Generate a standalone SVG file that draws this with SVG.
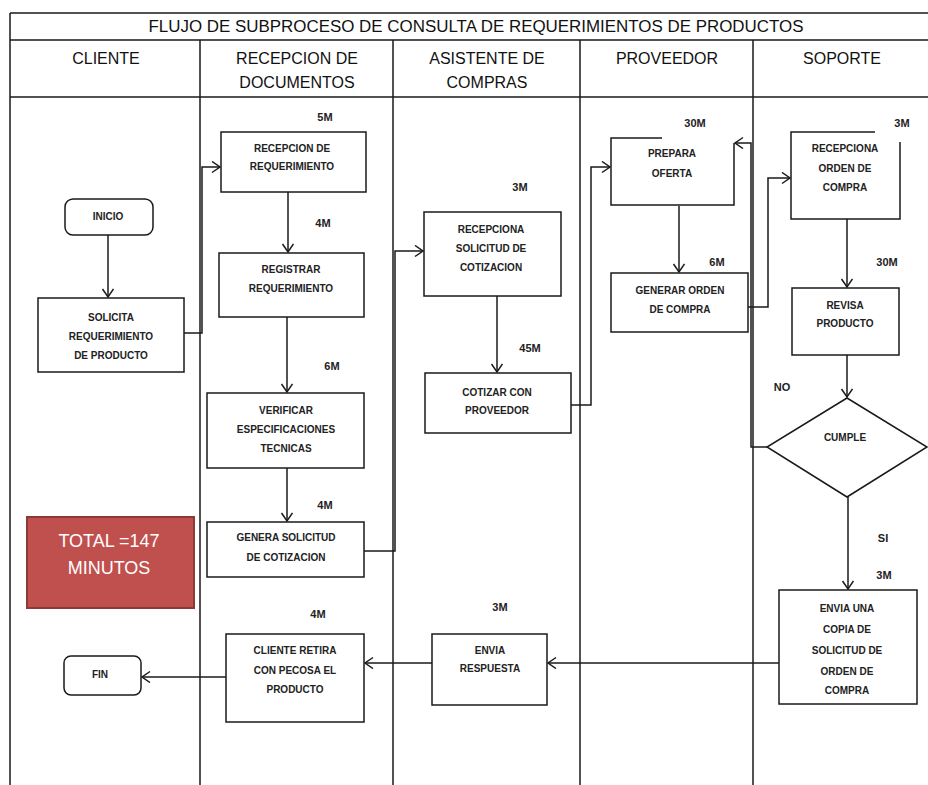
<svg xmlns="http://www.w3.org/2000/svg" width="928" height="785" viewBox="0 0 928 785">
<style>
.grid{stroke:#1a1a1a;stroke-width:1.5;fill:none}
.ln{stroke:#1a1a1a;stroke-width:1.5;fill:none}
.box{fill:#fff;stroke:#1a1a1a;stroke-width:1.5}
.t{font-family:"Liberation Sans",Arial,sans-serif;font-size:10px;font-weight:bold;fill:#222;text-anchor:middle}
.m{font-size:11px}
.h{font-family:"Liberation Sans",Arial,sans-serif;font-size:16px;fill:#111;text-anchor:middle}
.w{font-family:"Liberation Sans",Arial,sans-serif;font-size:18px;fill:#fff;text-anchor:middle}
</style>
<defs>
<marker id="ar" markerUnits="userSpaceOnUse" markerWidth="12" markerHeight="14" refX="9" refY="6" orient="auto">
<path d="M1,0.5 L9,6 L1,11.5" fill="none" stroke="#1a1a1a" stroke-width="1.5"/>
</marker>
</defs>
<rect width="928" height="785" fill="#fff"/>
<g id="table">
<path class="grid" d="M10,13 H928 M10,40 H928 M10,97 H928 M10,13 V785 M200,40 V785 M393,40 V785 M580,40 V785 M753,40 V785"/>
<text class="h" x="476" y="32" textLength="655" lengthAdjust="spacingAndGlyphs">FLUJO DE SUBPROCESO DE CONSULTA DE REQUERIMIENTOS DE PRODUCTOS</text>
<text class="h" x="106" y="64">CLIENTE</text>
<text class="h" x="297" y="64">RECEPCION DE</text>
<text class="h" x="297" y="88">DOCUMENTOS</text>
<text class="h" x="487" y="64">ASISTENTE DE</text>
<text class="h" x="487" y="88">COMPRAS</text>
<text class="h" x="667" y="64">PROVEEDOR</text>
<text class="h" x="842" y="64">SOPORTE</text>
</g>
<g id="connectors">
<path class="ln" d="M108,235 V297" marker-end="url(#ar)"/>
<path class="ln" d="M184,333 H202 V167 H220" marker-end="url(#ar)"/>
<path class="ln" d="M288,192 V252" marker-end="url(#ar)"/>
<path class="ln" d="M287,317 V392" marker-end="url(#ar)"/>
<path class="ln" d="M287,468 V521" marker-end="url(#ar)"/>
<path class="ln" d="M364,551 H395 V251 H423" marker-end="url(#ar)"/>
<path class="ln" d="M497,296 V372" marker-end="url(#ar)"/>
<path class="ln" d="M571,405 H591 V167 H610" marker-end="url(#ar)"/>
<path class="ln" d="M679,206 V272" marker-end="url(#ar)"/>
<path class="ln" d="M748,307 H768 V178 H790" marker-end="url(#ar)"/>
<path class="ln" d="M847,219 V287" marker-end="url(#ar)"/>
<path class="ln" d="M847,355 V397" marker-end="url(#ar)"/>
<path class="ln" d="M767,447 H751 V143 H735" marker-end="url(#ar)"/>
<path class="ln" d="M848,497 V589" marker-end="url(#ar)"/>
<path class="ln" d="M779,663 H548" marker-end="url(#ar)"/>
<path class="ln" d="M432,663 H365" marker-end="url(#ar)"/>
<path class="ln" d="M226,677 H142" marker-end="url(#ar)"/>
</g>
<g id="labels">
<text class="t m" x="325" y="121">5M</text>
<text class="t m" x="323" y="227">4M</text>
<text class="t m" x="332" y="370">6M</text>
<text class="t m" x="325" y="509">4M</text>
<text class="t m" x="318" y="618">4M</text>
<text class="t m" x="520" y="191">3M</text>
<text class="t m" x="530" y="352">45M</text>
<text class="t m" x="500" y="611">3M</text>
<text class="t m" x="695" y="127">30M</text>
<text class="t m" x="717" y="266">6M</text>
<text class="t m" x="902" y="127">3M</text>
<text class="t m" x="887" y="266">30M</text>
<text class="t m" x="782" y="391">NO</text>
<text class="t m" x="883" y="542">SI</text>
<text class="t m" x="884" y="579">3M</text>
</g>
<g id="total">
<rect x="27" y="517" width="167" height="91" fill="#c0504d" stroke="#8c3a38" stroke-width="2"/>
<text class="w" x="109" y="547">TOTAL =147</text>
<text class="w" x="109" y="574">MINUTOS</text>
</g>
<g id="inicio">
<rect class="box" x="65" y="199" width="88" height="36" rx="8"/>
<text class="t" x="108" y="220">INICIO</text>
</g>
<g id="solicita">
<rect class="box" x="38" y="298" width="146" height="74"/>
<text class="t" x="111" y="320.5">SOLICITA</text>
<text class="t" x="111" y="339.5">REQUERIMIENTO</text>
<text class="t" x="111" y="358.5">DE PRODUCTO</text>
</g>
<g id="recepcion">
<rect class="box" x="221" y="132" width="145" height="60"/>
<text class="t" x="292" y="151.5">RECEPCION  DE</text>
<text class="t" x="292" y="169.5">REQUERIMIENTO</text>
</g>
<g id="registrar">
<rect class="box" x="219" y="253" width="145" height="64"/>
<text class="t" x="291" y="272.5">REGISTRAR</text>
<text class="t" x="291" y="291.5">REQUERIMIENTO</text>
</g>
<g id="verificar">
<rect class="box" x="207" y="393" width="157" height="75"/>
<text class="t" x="286" y="413.5">VERIFICAR</text>
<text class="t" x="286" y="432.5">ESPECIFICACIONES</text>
<text class="t" x="286" y="451.5">TECNICAS</text>
</g>
<g id="genera">
<rect class="box" x="207" y="522" width="157" height="55"/>
<text class="t" x="286" y="540.5">GENERA SOLICITUD</text>
<text class="t" x="286" y="560.5">DE COTIZACION</text>
</g>
<g id="retira">
<rect class="box" x="226" y="634" width="138" height="88"/>
<text class="t" x="295" y="653.5">CLIENTE  RETIRA</text>
<text class="t" x="295" y="673.5">CON PECOSA EL</text>
<text class="t" x="295" y="692.5">PRODUCTO</text>
</g>
<g id="fin">
<rect class="box" x="64" y="656" width="77" height="39" rx="7"/>
<text class="t" x="100" y="677.5">FIN</text>
</g>
<g id="recepciona-solicitud">
<rect class="box" x="424" y="212" width="137" height="84"/>
<text class="t" x="491" y="232.5">RECEPCIONA</text>
<text class="t" x="491" y="251.5">SOLICITUD  DE</text>
<text class="t" x="491" y="270.5">COTIZACION</text>
</g>
<g id="cotizar">
<rect class="box" x="425" y="373" width="146" height="60"/>
<text class="t" x="497" y="395.5">COTIZAR  CON</text>
<text class="t" x="497" y="413.5">PROVEEDOR</text>
</g>
<g id="envia-respuesta">
<rect class="box" x="432" y="634" width="115" height="71"/>
<text class="t" x="490" y="653.5">ENVIA</text>
<text class="t" x="490" y="671.5">RESPUESTA</text>
</g>
<g id="prepara">
<rect x="611" y="138" width="123" height="67" fill="#fff"/>
<path class="ln" d="M662,138 H611 V205 H734 V143"/>
<text class="t" x="672" y="156.5">PREPARA</text>
<text class="t" x="672" y="176.5">OFERTA</text>
</g>
<g id="generar-orden">
<rect class="box" x="611" y="273" width="137" height="59"/>
<text class="t" x="680" y="293.5">GENERAR  ORDEN</text>
<text class="t" x="680" y="312.5">DE COMPRA</text>
</g>
<g id="recepciona-orden">
<rect x="791" y="132" width="109" height="87" fill="#fff"/>
<path class="ln" d="M875,132 H791 V219 H900 V142"/>
<text class="t" x="845" y="151.5">RECEPCIONA</text>
<text class="t" x="845" y="171.5">ORDEN DE</text>
<text class="t" x="845" y="190.5">COMPRA</text>
</g>
<g id="revisa">
<rect class="box" x="792" y="288" width="107" height="67"/>
<text class="t" x="845" y="308.5">REVISA</text>
<text class="t" x="845" y="326.5">PRODUCTO</text>
</g>
<g id="cumple">
<path class="box" d="M847,398 L927,447 L847,497 L767,447 Z"/>
<text class="t" x="845" y="440.5">CUMPLE</text>
</g>
<g id="envia-copia">
<rect class="box" x="779" y="590" width="138" height="114"/>
<text class="t" x="847" y="611.5">ENVIA UNA</text>
<text class="t" x="847" y="632.5">COPIA DE</text>
<text class="t" x="847" y="653.5">SOLICITUD DE</text>
<text class="t" x="847" y="674.5">ORDEN DE</text>
<text class="t" x="847" y="693.5">COMPRA</text>
</g>
</svg>
